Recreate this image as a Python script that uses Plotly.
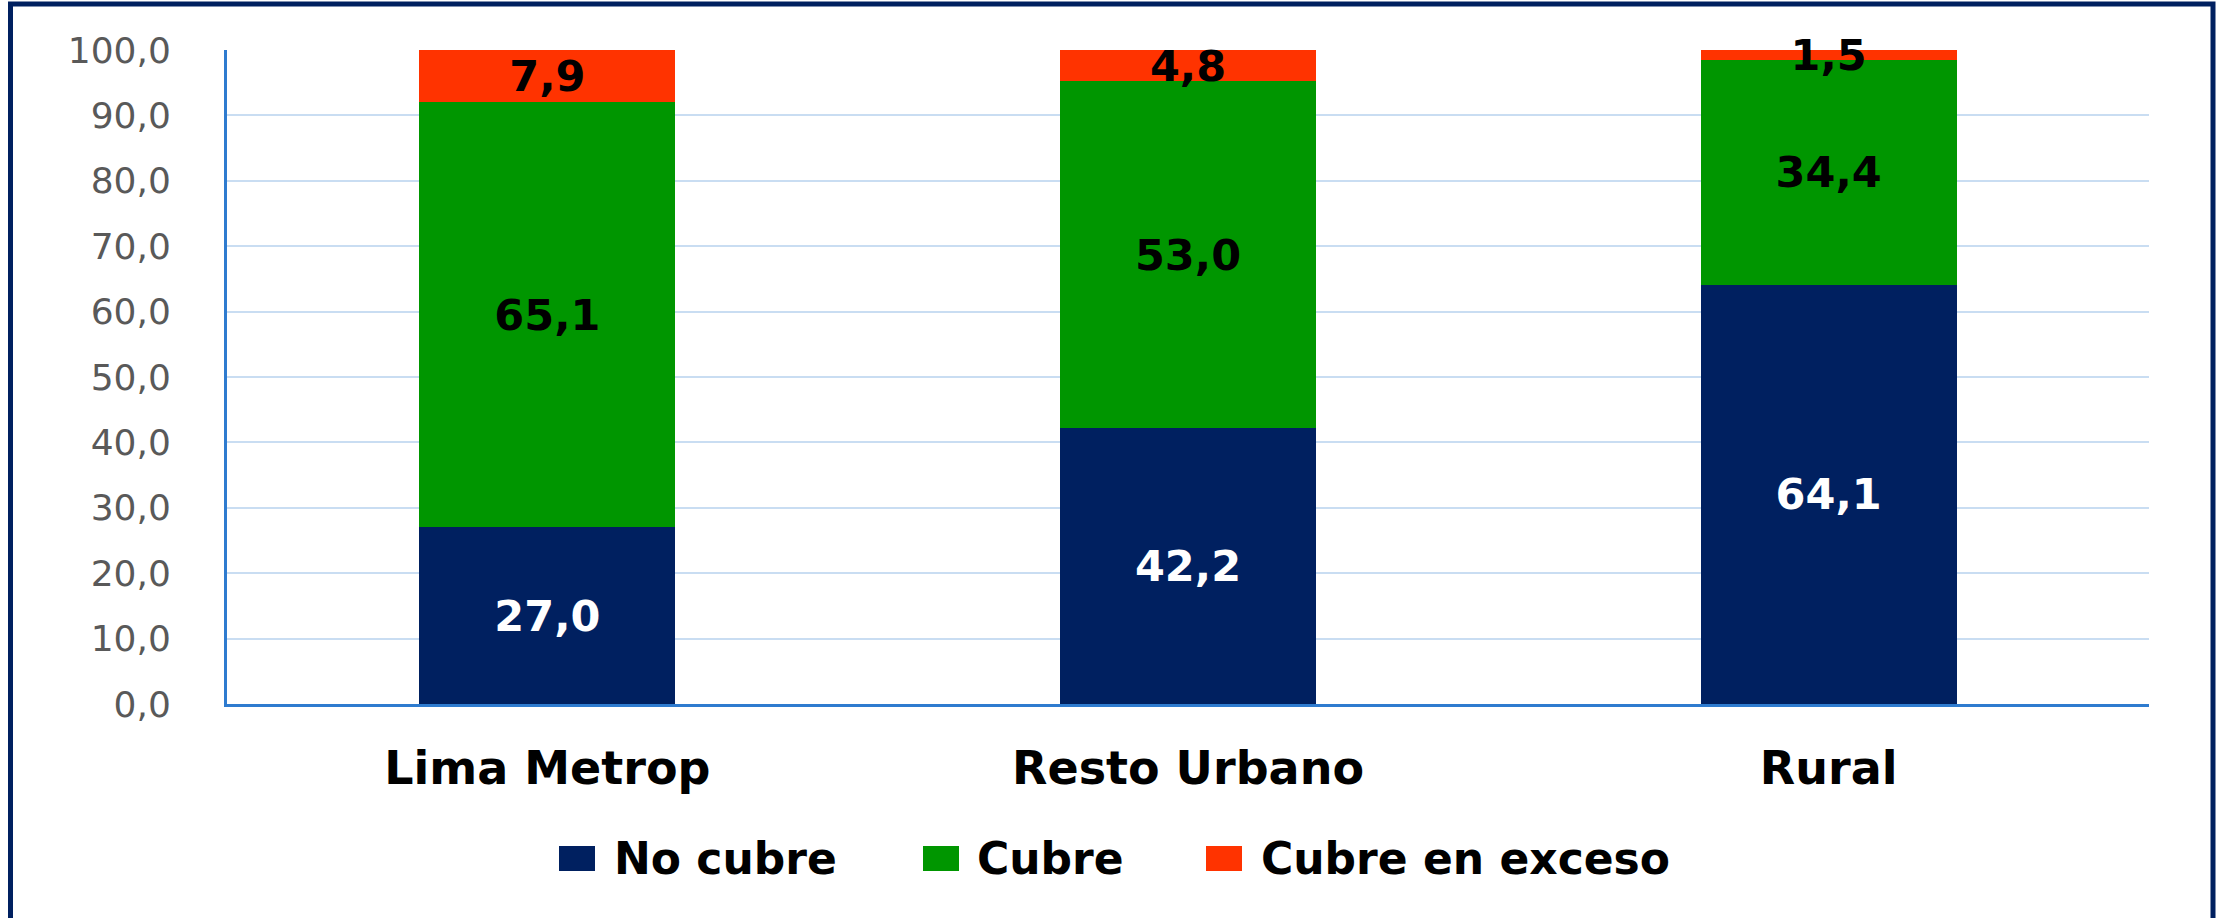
import plotly.graph_objects as go

# ---- data ----
categories = ["Lima Metrop", "Resto Urbano", "Rural"]
series_names = ["No cubre", "Cubre", "Cubre en exceso"]
no_cubre = [27.0, 42.2, 64.1]
cubre = [65.1, 53.0, 34.4]
cubre_exceso = [7.9, 4.8, 1.5]
y_ticks = [0, 10, 20, 30, 40, 50, 60, 70, 80, 90, 100]

# ---- style ----
W, H = 2221, 918
L, R, T, B = 227, 72, 50, 214
PW, PH = W - L - R, H - T - B
colors = ["#002060", "#009600", "#FF3300"]
text_colors = ["white", "black", "black"]
FONT = "DejaVu Sans"


def px_x(px):
    return (px - L) / PW


def px_y(py):
    return (H - B - py) / PH


fig = go.Figure()
for name, vals, col, tcol in zip(series_names, [no_cubre, cubre, cubre_exceso], colors, text_colors):
    fig.add_trace(go.Bar(
        x=categories, y=vals, name=name,
        marker=dict(color=col, line=dict(width=0)),
        texttemplate="%{y:.1f}", textposition="inside",
        insidetextanchor="middle", textangle=0,
        textfont=dict(family=FONT, size=43, color=tcol, weight="bold"),
        cliponaxis=False, showlegend=False,
    ))

fig.update_layout(
    width=W, height=H,
    margin=dict(l=L, r=R, t=T, b=B, autoexpand=False),
    barmode="stack", bargap=0.6,
    separators=",.",
    paper_bgcolor="white", plot_bgcolor="white",
    uniformtext=dict(minsize=43, mode="show"),
    font=dict(family=FONT),
)
fig.update_yaxes(
    range=[0, 100], tickvals=y_ticks, tickformat=".1f",
    tickfont=dict(family=FONT, size=36, color="#595959"),
    ticklabelstandoff=46,
    showgrid=True, gridcolor="#C9DDF2", gridwidth=2,
    showline=True, linecolor="#2E7BCF", linewidth=3,
    zeroline=False, automargin=False, fixedrange=True,
)
fig.update_xaxes(
    tickfont=dict(family=FONT, size=46, color="black", weight="bold"),
    ticklabelstandoff=22,
    showline=True, linecolor="#2E7BCF", linewidth=3,
    showgrid=False, automargin=False, fixedrange=True,
)

# manual legend (large square swatches)
legend_sq_x = [559, 923, 1206]
legend_txt_x = [612, 975, 1259]
sq_w, sq_h, leg_cy = 36, 25, 858.5
for name, col, sx, tx in zip(series_names, colors, legend_sq_x, legend_txt_x):
    fig.add_shape(type="rect", xref="paper", yref="paper",
                  x0=px_x(sx), x1=px_x(sx + sq_w),
                  y0=px_y(leg_cy + sq_h / 2), y1=px_y(leg_cy - sq_h / 2),
                  fillcolor=col, line=dict(width=0))
    fig.add_annotation(text=name, xref="paper", yref="paper",
                       x=px_x(tx), y=px_y(leg_cy), xanchor="left", yanchor="middle",
                       showarrow=False,
                       font=dict(family=FONT, size=44, color="black", weight="bold"))

# outer border
fig.add_shape(type="rect", xref="paper", yref="paper",
              x0=px_x(10.5), x1=px_x(2213), y0=px_y(935), y1=px_y(4),
              line=dict(color="#002060", width=5), fillcolor="rgba(0,0,0,0)",
              layer="above")

fig.write_html("out.html", config={"displayModeBar": False},
               post_script="document.body.style.margin='0';document.body.style.overflow='hidden';")
